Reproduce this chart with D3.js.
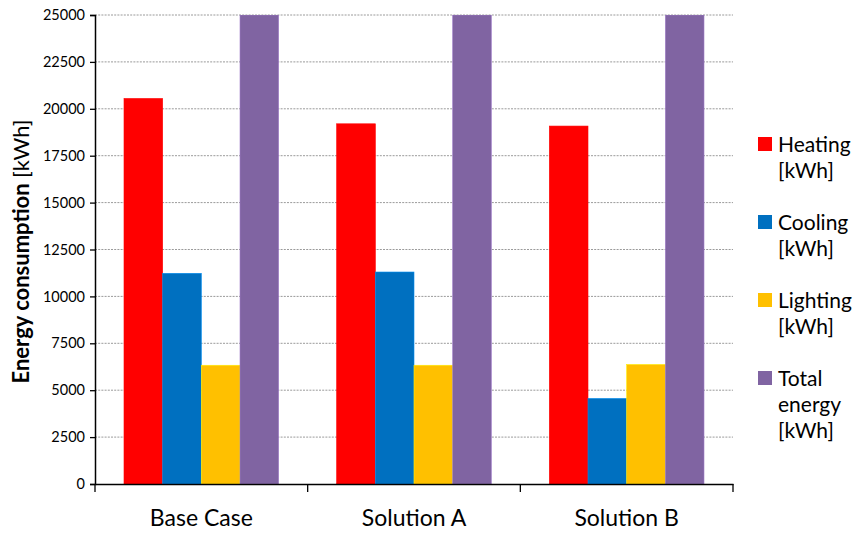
<!DOCTYPE html>
<html>
<head>
<meta charset="utf-8">
<script src="https://cdn.jsdelivr.net/npm/d3@7"></script>
<style>
  html, body { margin: 0; padding: 0; background: #fff; }
  svg { display: block; font-family: Lato, "Open Sans", sans-serif; }
</style>
</head>
<body>
<svg id="chart" width="855" height="533"></svg>
<script>
const categories = ["Base Case", "Solution A", "Solution B"];
const seriesNames = ["Heating [kWh]", "Cooling [kWh]", "Lighting [kWh]", "Total energy [kWh]"];
const heating = [20550, 19200, 19080];
const cooling = [11230, 11300, 4560];
const lighting = [6330, 6330, 6370];
const total = [38110, 36830, 30010];
const colors = ["#ff0000", "#0070c0", "#ffc000", "#8064a2"];
const yTicks = [0, 2500, 5000, 7500, 10000, 12500, 15000, 17500, 20000, 22500, 25000];
const yMax = 25000;

const series = [heating, cooling, lighting, total];

const svg = d3.select("#chart");
const m = { left: 95, right: 733, top: 15, bottom: 484 };

const x0 = d3.scaleBand().domain(categories).range([m.left, m.right]).paddingInner(0).paddingOuter(0);
const gapFrac = 1.5 / 5.5;
const x1 = d3.scaleBand().domain(d3.range(series.length))
  .range([x0.bandwidth() * gapFrac / 2, x0.bandwidth() * (1 - gapFrac / 2)]).padding(0);
const y = d3.scaleLinear().domain([0, yMax]).range([m.bottom, m.top]);

// gridlines
svg.append("g").selectAll("line").data(yTicks.filter(d => d > 0)).join("line")
  .attr("x1", m.left).attr("x2", m.right)
  .attr("y1", d => y(d)).attr("y2", d => y(d))
  .attr("stroke", "#9a9a9a").attr("stroke-width", 1).attr("stroke-dasharray", "2,1.2");

// bars
svg.append("clipPath").attr("id", "plotclip").append("rect")
  .attr("x", m.left).attr("y", m.top).attr("width", m.right - m.left).attr("height", m.bottom - m.top);

const gBars = svg.append("g").attr("clip-path", "url(#plotclip)");
categories.forEach((c, ci) => {
  series.forEach((s, si) => {
    const v = Math.min(s[ci], yMax);
    gBars.append("rect")
      .attr("x", x0(c) + x1(si))
      .attr("width", x1.bandwidth())
      .attr("y", y(v))
      .attr("height", y(0) - y(v))
      .attr("fill", colors[si])
      .attr("stroke", d3.color(colors[si]).brighter(0.6))
      .attr("stroke-width", 0.6);
  });
});

// y axis
const yAxis = d3.axisLeft(y).tickValues(yTicks).tickSize(5).tickPadding(5).tickFormat(d3.format("d"));
const gy = svg.append("g").attr("transform", `translate(${m.left},0)`).call(yAxis);
gy.select(".domain").attr("stroke", "#000").attr("stroke-width", 1.5);
gy.selectAll(".tick line").attr("stroke", "#000").attr("stroke-width", 1.3);
gy.selectAll(".tick text").attr("font-size", 14.5).attr("fill", "#000")
  .attr("font-family", "Lato, sans-serif");

// x axis
const xAxis = d3.axisBottom(x0).tickSize(0);
const gx = svg.append("g").attr("transform", `translate(0,${m.bottom})`).call(xAxis);
gx.select(".domain").attr("stroke", "#000").attr("stroke-width", 1.5);
gx.selectAll(".tick text").attr("font-size", 23).attr("fill", "#000")
  .attr("y", 42).attr("dy", 0)
  .attr("font-family", "Lato, sans-serif");
// category boundary ticks
const bounds = [m.left, ...categories.map(c => x0(c) + x0.bandwidth())];
gx.append("g").selectAll("line").data(bounds).join("line")
  .attr("x1", d => d).attr("x2", d => d).attr("y1", 0).attr("y2", 8)
  .attr("stroke", "#000").attr("stroke-width", 1.3);

// y title
const yt = svg.append("text")
  .attr("transform", `translate(29,${(m.top + m.bottom) / 2 + 2}) rotate(-90)`)
  .attr("text-anchor", "middle").attr("font-size", 22).attr("fill", "#000");
yt.append("tspan").attr("font-weight", "bold").text("Energy consumption ");
yt.append("tspan").attr("font-weight", "normal").text("[kWh]");

// legend
const legendLines = [["Heating", "[kWh]"], ["Cooling", "[kWh]"], ["Lighting", "[kWh]"], ["Total", "energy", "[kWh]"]];
const legendTops = [137, 215, 293, 371];
const lg = svg.append("g");
seriesNames.forEach((n, i) => {
  const g = lg.append("g").attr("transform", `translate(758,${legendTops[i]})`);
  g.append("rect").attr("width", 14).attr("height", 14).attr("fill", colors[i]);
  const t = g.append("text").attr("x", 20).attr("y", 15).attr("font-size", 21).attr("fill", "#000");
  legendLines[i].forEach((l, li) => {
    t.append("tspan").attr("x", 20).attr("dy", li === 0 ? 0 : 26).text(l);
  });
});
</script>
</body>
</html>
